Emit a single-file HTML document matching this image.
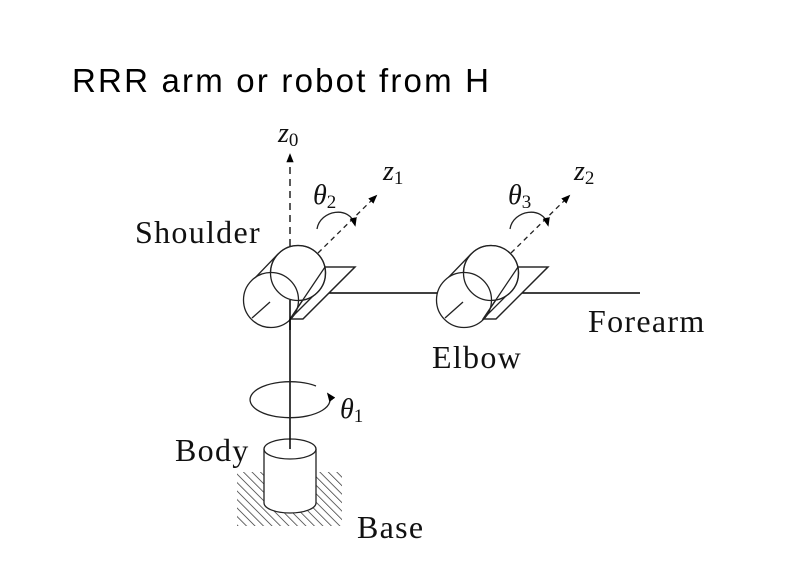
<!DOCTYPE html>
<html><head><style>
body{margin:0;background:#fff;width:787px;height:583px;overflow:hidden}
svg{display:block}
.s{font-family:"Liberation Serif",serif;fill:#111;font-size:32px;letter-spacing:1.3px}
.i{font-family:"Liberation Serif",serif;font-style:italic;fill:#111}
</style></head><body>
<svg width="787" height="583" viewBox="0 0 787 583">
<defs>
<marker id="ah" viewBox="0 0 10 10" refX="8" refY="5" markerWidth="7" markerHeight="7" orient="auto"><path d="M0,1 L10,5 L0,9 z" fill="#000"/></marker>
<pattern id="hat" width="6" height="6" patternUnits="userSpaceOnUse" patternTransform="rotate(-45)"><line x1="0" y1="0" x2="0" y2="6" stroke="#222" stroke-width="1.4"/></pattern>
<g id="joint" fill="none" stroke="#222" stroke-width="1.3">
<polygon points="325,267 355,267 303,319 290,319" fill="#fff"/>
<line x1="252" y1="281" x2="278" y2="254"/>
<line x1="290" y1="319" x2="317" y2="292"/>
<circle cx="298" cy="273" r="27.5" fill="#fff"/>
<circle cx="271" cy="300" r="27.5" fill="#fff"/>
<circle cx="298" cy="273" r="27.5" fill="none"/>
<polygon points="325,267 355,267 303,319 290,319" fill="none" stroke="#222"/>
<line x1="252" y1="318" x2="270" y2="302"/>
<line x1="318" y1="253" x2="376" y2="196" stroke-dasharray="5,4" marker-end="url(#ah)"/>
<path d="M317,229 C320,210 350,205 355,225" marker-end="url(#ah)"/>
</g>
</defs>
<text x="72" y="92" style="font-family:'Liberation Sans',sans-serif;font-size:33px;letter-spacing:2.2px" fill="#000">RRR arm or robot from H</text>
<path d="M237,472 L264,472 L264,503 A26,10 0 0 0 316,503 L316,472 L342,472 L342,526 L237,526 z" fill="url(#hat)"/>
<path d="M264,449 L264,503 A26,10 0 0 0 316,503 L316,449" fill="#fff" stroke="#222" stroke-width="1.3"/>
<ellipse cx="290" cy="449" rx="26" ry="10" fill="#fff" stroke="#222" stroke-width="1.3"/>
<line x1="290" y1="300" x2="290" y2="449" stroke="#000" stroke-width="1.5"/>
<path d="M316,386 A40,18 0 1 0 328,394" fill="none" stroke="#222" stroke-width="1.3" marker-end="url(#ah)"/>
<line x1="328" y1="293" x2="440" y2="293" stroke="#000" stroke-width="1.5"/>
<line x1="520" y1="293" x2="640" y2="293" stroke="#000" stroke-width="1.5"/>
<line x1="290" y1="270" x2="290" y2="155" stroke="#000" stroke-width="1.3" stroke-dasharray="7,5" marker-end="url(#ah)"/>
<use href="#joint"/>
<use href="#joint" transform="translate(193,0)"/>
<line x1="290" y1="300" x2="290" y2="330" stroke="#000" stroke-width="1.5"/>
<text class="i" x="278" y="142" font-size="28">z<tspan font-size="19" font-style="normal" dy="4">0</tspan></text>
<text class="i" x="383" y="180" font-size="28">z<tspan font-size="19" font-style="normal" dy="4">1</tspan></text>
<text class="i" x="574" y="180" font-size="28">z<tspan font-size="19" font-style="normal" dy="4">2</tspan></text>
<text class="i" x="313" y="204" font-size="28">θ<tspan font-size="19" font-style="normal" dy="4">2</tspan></text>
<text class="i" x="508" y="204" font-size="28">θ<tspan font-size="19" font-style="normal" dy="4">3</tspan></text>
<text class="i" x="340" y="418" font-size="28">θ<tspan font-size="19" font-style="normal" dy="4">1</tspan></text>
<text class="s" x="135" y="243">Shoulder</text>
<text class="s" x="432" y="368">Elbow</text>
<text class="s" x="588" y="332">Forearm</text>
<text class="s" x="175" y="461">Body</text>
<text class="s" x="357" y="538">Base</text>
</svg>
</body></html>
